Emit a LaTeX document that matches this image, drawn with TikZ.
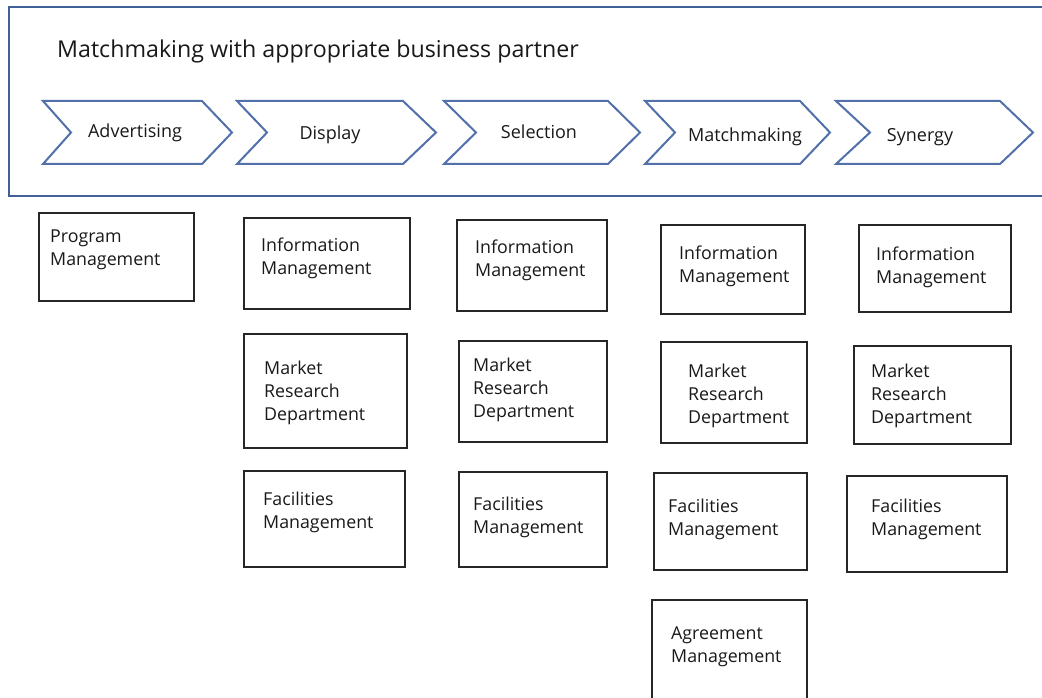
\documentclass[tikz,border=0pt]{standalone}
\usepackage{fontspec}
\setmainfont{Open Sans}[Ligatures=NoCommon]
\usetikzlibrary{fit}
\definecolor{framec}{RGB}{66,96,152}
\definecolor{chevc}{RGB}{82,112,170}
\definecolor{txtc}{RGB}{25,25,25}
\tikzset{
  frame/.style={draw=framec, line width=2.6pt},
  chevron/.style={draw=chevc, line width=2pt, line join=miter},
  chevlbl/.style={text=txtc, font=\fontsize{18}{23}\selectfont, inner sep=0pt, anchor=base},
  box/.style={draw=black!85, line width=1.6pt, inner sep=0pt},
  boxlbl/.style={text=txtc, font=\fontsize{17.8}{23}\selectfont, inner sep=0pt, align=left, anchor=base west},
  titlelbl/.style={text=txtc, font=\fontsize{23.2}{27}\selectfont, inner sep=0pt, anchor=base west}
}
% name, x1, y1, x2, y2, textx, last baseline, text
\newcommand\boxitem[8]{%
  \node[box, fit={(#2,#3) (#4,#5)}] (#1) {};
  \node[boxlbl] (#1-t) at (#6,#7) {#8};
}
% name, left, notch, rightcorner, tip, label x, label baseline, label
\newcommand\chevitem[8]{%
  \draw[chevron] (#2,101) -- (#4,101) -- (#5,132.5) -- (#4,164) -- (#2,164) -- (#3,132.5) -- cycle;
  \node[chevlbl] (#1) at (#6,#7) {#8};
}
\begin{document}
\begin{tikzpicture}[x=1pt,y=-1pt]
\useasboundingbox (0,0) rectangle (1042,698);
\fill[white] (0,0) rectangle (1042,698);
\draw[frame] (1060,7) -- (9,7) -- (9,196) -- (1060,196);
\node[titlelbl] (title) at (57,57.5) {Matchmaking with appropriate business partner};

\chevitem{cA}{43}{71}{202}{232}{135}{138}{Advertising}
\chevitem{cD}{237}{267}{403}{436}{330}{140}{Display}
\chevitem{cS}{444}{476}{608}{640}{539}{139}{Selection}
\chevitem{cM}{645}{675}{800}{830}{745}{142}{Matchmaking}
\chevitem{cY}{836}{870}{1000}{1033}{920}{142}{Synergy}

\boxitem{pm}{39}{213}{194}{301}{50}{265}{Program\\Management}

\boxitem{d1}{244}{218}{410}{309}{261}{274}{Information\\Management}
\boxitem{d2}{244}{334}{407}{448}{264}{420}{Market\\Research\\Department}
\boxitem{d3}{244}{471}{405}{567}{263}{528}{Facilities\\Management}

\boxitem{s1}{457}{220}{607}{311}{475}{276}{Information\\Management}
\boxitem{s2}{459}{341}{607}{442}{473}{417}{Market\\Research\\Department}
\boxitem{s3}{459}{472}{607}{567}{473}{533}{Facilities\\Management}

\boxitem{m1}{661}{225}{805}{314}{679}{282}{Information\\Management}
\boxitem{m2}{661}{342}{807}{443}{688}{423}{Market\\Research\\Department}
\boxitem{m3}{654}{473}{807}{570}{668}{535}{Facilities\\Management}
\boxitem{m4}{652}{600}{807}{706}{671}{662}{Agreement\\Management}

\boxitem{y1}{859}{225}{1011}{312}{876}{283}{Information\\Management}
\boxitem{y2}{854}{346}{1011}{444}{871}{423}{Market\\Research\\Department}
\boxitem{y3}{847}{476}{1007}{572}{871}{535}{Facilities\\Management}
\end{tikzpicture}
\end{document}
